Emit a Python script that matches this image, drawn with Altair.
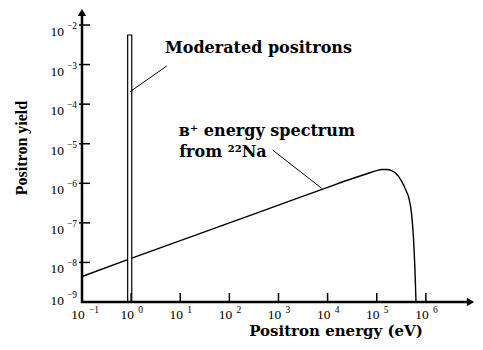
import altair as alt
import pandas as pd

# ---- data ----
# beta+ energy spectrum of 22Na (energy in eV, positron yield)
energy_ev = [0.1, 1, 10, 100, 1e3, 1e4, 3.2e4, 6.3e4, 1.0e5, 1.26e5, 1.58e5,
             2.0e5, 2.4e5, 3.16e5, 4.0e5, 4.47e5, 5.1e5, 5.6e5, 6.0e5, 6.3e5]
yield_vals = [4.4e-9, 1.26e-8, 3.55e-8, 1.0e-7, 2.8e-7, 7.9e-7, 1.32e-6, 1.74e-6,
              2.09e-6, 2.24e-6, 2.24e-6, 2.09e-6, 1.82e-6, 1.17e-6, 6.3e-7, 4.4e-7,
              1.74e-7, 4.0e-8, 6.3e-9, 1.0e-9]

# moderated positron peak (narrow bar)
mod_lo = [0.85]
mod_hi = [1.03]
mod_top = [5.6e-3]

# tick values and exponent labels
x_ticks = [0.1, 1, 10, 100, 1e3, 1e4, 1e5, 1e6]
x_exps = ["\u22121", "0", "1", "2", "3", "4", "5", "6"]
y_ticks = [1e-2, 1e-3, 1e-4, 1e-5, 1e-6, 1e-7, 1e-8, 1e-9]
y_exps = ["\u22122", "\u22123", "\u22124", "\u22125", "\u22126", "\u22127", "\u22128", "\u22129"]

# annotations (anchor in data units)
ann_text = ["Moderated positrons", "\u0432\u207a energy spectrum", "from \u00b2\u00b2Na"]
ann_x = [4.9, 9.3, 9.5]
ann_y = [1.95e-3, 1.57e-5, 4.6e-6]

# leader lines
lead_x1 = [0.95, 760]
lead_y1 = [2.06e-4, 6.9e-6]
lead_x2 = [5.3, 7550]
lead_y2 = [9.2e-4, 7.5e-7]

x_title = "Positron energy (eV)"
y_title = "Positron yield"

# ---- chart ----
W, H = 393, 294
SERIF = "Liberation Serif"
TFONT = "DejaVu Serif"

xs = alt.Scale(type="log", domain=[0.1, 10 ** 7.0], nice=False)
ys = alt.Scale(type="log", domain=[1e-9, 10 ** -1.57], nice=False)


def X(f):
    return alt.X(f, type="quantitative", scale=xs, axis=None)


def Y(f):
    return alt.Y(f, type="quantitative", scale=ys, axis=None)


one = alt.Data(values=[{"a": 1}])

spec_df = pd.DataFrame({"e": energy_ev, "y": yield_vals})
spectrum = alt.Chart(spec_df).mark_line(
    color="black", strokeWidth=1.4, interpolate="monotone"
).encode(x=X("e"), y=Y("y"))

bar_df = pd.DataFrame({"lo": mod_lo, "hi": mod_hi, "top": mod_top, "bot": [1e-9]})
bar = alt.Chart(bar_df).mark_rect(
    fill="white", stroke="black", strokeWidth=1.2
).encode(x=X("lo"), x2="hi", y=Y("top"), y2="bot")

lead_df = pd.DataFrame({"x1": lead_x1, "y1": lead_y1, "x2": lead_x2, "y2": lead_y2})
leaders = alt.Chart(lead_df).mark_rule(color="black", strokeWidth=1).encode(
    x=X("x1"), y=Y("y1"), x2="x2", y2="y2"
)

ann_df = pd.DataFrame({"x": ann_x, "y": ann_y, "t": ann_text})
ann = alt.Chart(ann_df).mark_text(
    font=TFONT, fontWeight="bold", fontSize=16, align="left", baseline="alphabetic", color="black"
).encode(x=X("x"), y=Y("y"), text="t:N")

# axes lines
yaxis = alt.Chart(one).mark_rule(color="black", strokeWidth=2.5).encode(
    x=alt.value(0), y=alt.value(4), y2=alt.value(H + 1)
)
xaxis = alt.Chart(one).mark_rule(color="black", strokeWidth=2.5).encode(
    x=alt.value(-1), x2=alt.value(W - 4), y=alt.value(H)
)
yarrow = alt.Chart(one).mark_point(
    shape="triangle-up", filled=True, color="black", size=70, opacity=1
).encode(x=alt.value(0), y=alt.value(4.5))
xarrow = alt.Chart(one).mark_point(
    shape="triangle-right", filled=True, color="black", size=70, opacity=1
).encode(x=alt.value(W - 4.5), y=alt.value(H))

# ticks
xt_df = pd.DataFrame({"v": x_ticks, "b": ["10"] * len(x_ticks), "e": x_exps})
yt_df = pd.DataFrame({"v": y_ticks, "b": ["10"] * len(y_ticks), "e": y_exps})

xtick_marks = alt.Chart(xt_df).transform_filter("datum.v > 0.5").mark_rule(
    color="black", strokeWidth=1.5
).encode(x=X("v"), y=alt.value(H - 9), y2=alt.value(H))
ytick_marks = alt.Chart(yt_df).transform_filter("datum.v > 2e-9").mark_rule(
    color="black", strokeWidth=1.5
).encode(y=Y("v"), x=alt.value(-3), x2=alt.value(8))

xlab = alt.Chart(xt_df).mark_text(
    font=SERIF, fontSize=13.5, align="center", baseline="alphabetic", dx=-4, color="black"
).encode(x=X("v"), y=alt.value(H + 17), text="b:N")
xexp = alt.Chart(xt_df).mark_text(
    font=SERIF, fontSize=9.5, align="left", baseline="alphabetic", dx=7, color="black"
).encode(x=X("v"), y=alt.value(H + 11), text="e:N")

ylab = alt.Chart(yt_df).transform_filter("datum.v > 2e-9").mark_text(
    font=SERIF, fontSize=13.5, align="right", baseline="alphabetic", dy=11, color="black"
).encode(y=Y("v"), x=alt.value(-18), text="b:N")
ylab9 = alt.Chart(yt_df).transform_filter("datum.v < 2e-9").mark_text(
    font=SERIF, fontSize=13.5, align="right", baseline="alphabetic", dy=3, color="black"
).encode(y=Y("v"), x=alt.value(-18), text="b:N")
yexp = alt.Chart(yt_df).transform_filter("datum.v > 2e-9").mark_text(
    font=SERIF, fontSize=9.5, align="left", baseline="alphabetic", dy=4, color="black"
).encode(y=Y("v"), x=alt.value(-15), text="e:N")
yexp9 = alt.Chart(yt_df).transform_filter("datum.v < 2e-9").mark_text(
    font=SERIF, fontSize=9.5, align="left", baseline="alphabetic", dy=-4, color="black"
).encode(y=Y("v"), x=alt.value(-15), text="e:N")

xtitle = alt.Chart(alt.Data(values=[{"t": x_title}])).mark_text(
    font=TFONT, fontWeight="bold", fontSize=15, align="center", baseline="alphabetic", color="black"
).encode(x=alt.value(254), y=alt.value(H + 34), text="t:N")
ytitle = alt.Chart(alt.Data(values=[{"t": y_title}])).mark_text(
    font=SERIF, fontWeight="bold", fontSize=16, align="center", baseline="middle",
    angle=270, color="black"
).encode(x=alt.value(-60), y=alt.value(140), text="t:N")

chart = alt.layer(
    spectrum, bar, leaders, ann, yaxis, xaxis, yarrow, xarrow,
    xtick_marks, ytick_marks, xlab, xexp, ylab, ylab9, yexp, yexp9, xtitle, ytitle
).properties(
    width=W, height=H, autosize="none",
    padding={"left": 74, "top": 0, "right": 0, "bottom": 39},
    background="white",
).configure_view(stroke=None)

chart.save("out.html", embed_options={"renderer": "svg", "actions": False})
